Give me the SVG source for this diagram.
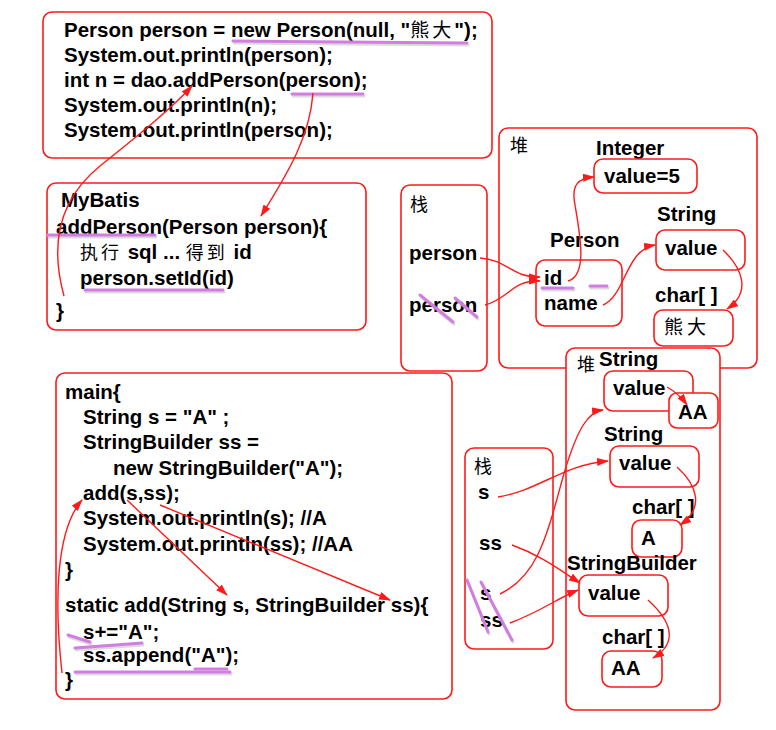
<svg xmlns="http://www.w3.org/2000/svg" width="776" height="730" viewBox="0 0 776 730">
<defs>
<style>
.box{fill:#fff;stroke:#ff1a1a;stroke-width:1.6}
.t{font-family:"Liberation Sans",Arial,"Noto Sans CJK SC",sans-serif;font-weight:bold;font-size:20.5px;fill:#000}
.c{font-family:"Noto Sans CJK SC","Liberation Sans",sans-serif;font-weight:normal;font-size:18px;fill:#000}
.a{fill:none;stroke:#ff1a1a;stroke-width:1.4;marker-end:url(#ah)}
.hl{fill:none;stroke:#d27ee0;stroke-width:3;stroke-linecap:round}
.sh{fill:none;stroke:#999;stroke-opacity:0.35;stroke-width:3;stroke-linecap:round}
</style>
<marker id="ah" viewBox="0 0 12 8" refX="11" refY="4" markerWidth="12" markerHeight="8" markerUnits="userSpaceOnUse" orient="auto">
<path d="M0,0 L12,4 L0,8 z" fill="#ff1a1a"/>
</marker>
</defs>
<rect width="776" height="730" fill="#fff"/>

<g id="code-top">
<rect class="box" x="43" y="12" width="449" height="146" rx="9"/>
<text class="t" x="64" y="37">Person person = new Person(null, "<tspan class="c" style="font-size:19px;letter-spacing:3px">熊大</tspan>");</text>
<text class="t" x="64" y="62">System.out.println(person);</text>
<text class="t" x="64" y="87">int n = dao.addPerson(person);</text>
<text class="t" x="64" y="112">System.out.println(n);</text>
<text class="t" x="64" y="137">System.out.println(person);</text>
</g>

<g id="mybatis">
<rect class="box" x="47" y="183" width="319" height="147" rx="9"/>
<text class="t" x="61" y="207">MyBatis</text>
<text class="t" x="56" y="234">addPerson(Person person){</text>
<text class="t" x="80" y="259"><tspan class="c" style="letter-spacing:3px">执行</tspan> sql ... <tspan class="c" style="letter-spacing:3px">得到</tspan> id</text>
<text class="t" x="80" y="285">person.setId(id)</text>
<text class="t" x="56" y="318">}</text>
</g>

<g id="stack-top">
<rect class="box" x="401" y="185" width="86" height="186" rx="9"/>
<text class="c" x="410" y="211">栈</text>
<text class="t" x="409" y="260">person</text>
<text class="t" x="409" y="312">person</text>
</g>

<g id="heap-top">
<rect class="box" x="499" y="128" width="258" height="240" rx="9"/>
<text class="c" x="510" y="152">堆</text>
</g>

<g id="integer">
<text class="t" x="596" y="155">Integer</text>
<rect class="box" x="594" y="159" width="103" height="34" rx="9"/>
<text class="t" x="604" y="183">value=5</text>
</g>

<g id="person-obj">
<text class="t" x="550" y="247">Person</text>
<rect class="box" x="536" y="260" width="86" height="66" rx="9"/>
<text class="t" x="544" y="285">id</text>
<text class="t" x="544" y="310">name</text>
</g>

<g id="string-top">
<text class="t" x="657" y="221">String</text>
<rect class="box" x="656" y="230" width="89" height="40" rx="9"/>
<text class="t" x="665" y="255">value</text>
</g>

<g id="chars-top">
<text class="t" x="655" y="302">char[ ]</text>
<rect class="box" x="654" y="310" width="79" height="36" rx="9"/>
<text class="c" x="664" y="334" style="font-size:19px;letter-spacing:4px">熊大</text>
</g>

<g id="code-bottom">
<rect class="box" x="56" y="373" width="396" height="326" rx="9"/>
<text class="t" x="65" y="399">main{</text>
<text class="t" x="83" y="424">String s = "A" ;</text>
<text class="t" x="83" y="449">StringBuilder ss =</text>
<text class="t" x="113" y="475">new StringBuilder("A");</text>
<text class="t" x="83" y="500">add(s,ss);</text>
<text class="t" x="83" y="525">System.out.println(s); //A</text>
<text class="t" x="83" y="551">System.out.println(ss); //AA</text>
<text class="t" x="65" y="577">}</text>
<text class="t" x="65" y="612">static add(String s, StringBuilder ss){</text>
<text class="t" x="83" y="639">s+="A";</text>
<text class="t" x="83" y="662">ss.append("A");</text>
<text class="t" x="65" y="687">}</text>
</g>

<g id="stack-bottom">
<rect class="box" x="465" y="448" width="88" height="201" rx="9"/>
<text class="c" x="474" y="473">栈</text>
<text class="t" x="478" y="499">s</text>
<text class="t" x="479" y="550">ss</text>
<text class="t" x="480" y="600">s</text>
<text class="t" x="480" y="627">ss</text>
</g>

<g id="heap-bottom">
<rect class="box" x="566" y="348" width="154" height="362" rx="9"/>
<text class="c" x="577" y="371">堆</text>
</g>

<g id="string-aa">
<text class="t" x="599" y="366">String</text>
<rect class="box" x="604" y="371" width="89" height="40" rx="9"/>
<text class="t" x="613" y="395">value</text>
</g>
<g id="chars-aa">
<rect class="box" x="669" y="393" width="49" height="35" rx="8"/>
<text class="t" x="678" y="419">AA</text>
</g>

<g id="string-a">
<text class="t" x="604" y="441">String</text>
<rect class="box" x="610" y="446" width="89" height="41" rx="9"/>
<text class="t" x="619" y="470">value</text>
</g>
<g id="chars-a">
<text class="t" x="632" y="514">char[ ]</text>
<rect class="box" x="632" y="520" width="50" height="37" rx="9"/>
<text class="t" x="641" y="545">A</text>
</g>

<g id="stringbuilder">
<text class="t" x="567" y="570">StringBuilder</text>
<rect class="box" x="579" y="575" width="89" height="41" rx="9"/>
<text class="t" x="588" y="600">value</text>
</g>
<g id="chars-sb">
<text class="t" x="602" y="644">char[ ]</text>
<rect class="box" x="602" y="651" width="60" height="36" rx="9"/>
<text class="t" x="611" y="675">AA</text>
</g>

<g id="highlights">
<path class="sh" d="M234,43 L468,45"/>
<path class="hl" d="M233,41 L467,43"/>
<path class="sh" d="M293,96 L364,96"/>
<path class="hl" d="M292,94 L363,94"/>
<path class="sh" d="M48,237 L156,237"/>
<path class="hl" d="M47,235 L155,235"/>
<path class="sh" d="M86,292 L224,292"/>
<path class="hl" d="M85,290 L223,290"/>
<path class="sh" d="M421,297 L454,324"/>
<path class="hl" d="M420,295 L453,322"/>
<path class="sh" d="M456,300 L478,319"/>
<path class="hl" d="M455,298 L477,317"/>
<path class="sh" d="M543,290 L574,290"/>
<path class="hl" d="M542,288 L573,288"/>
<path class="sh" d="M591,288 L608,288"/>
<path class="hl" d="M590,286 L607,286"/>
<path class="sh" d="M69,637 L91,644"/>
<path class="hl" d="M68,635 L90,642"/>
<path class="sh" d="M76,650 L143,645"/>
<path class="hl" d="M75,648 L142,643"/>
<path class="sh" d="M76,674 L231,674"/>
<path class="hl" d="M75,672 L230,672"/>
<path class="hl" d="M195,669 L227,669"/>
<path class="sh" d="M468,582 L489,634"/>
<path class="hl" d="M467,580 L488,632"/>
<path class="sh" d="M482,584 L513,642"/>
<path class="hl" d="M481,582 L512,640"/>
</g>

<g id="connectors">
<path class="a" d="M64,296 C50,245 58,200 100,166 C140,134 172,108 192,86"/>
<path class="a" d="M313,93 C310,135 290,170 261,216"/>
<path class="a" d="M480,258 C508,260 512,278 540,277"/>
<path class="a" d="M485,305 C510,298 512,280 540,281"/>
<path class="a" d="M568,281 C588,275 580,235 575,205 C571,185 578,178 594,177"/>
<path class="a" d="M603,305 C626,295 625,250 655,245"/>
<path class="a" d="M723,250 C742,268 752,292 727,309"/>
<path class="a" d="M62,673 C54,600 56,530 82,500"/>
<path class="a" d="M127,500 L227,595"/>
<path class="a" d="M160,505 L390,600"/>
<path class="a" d="M498,497 C540,490 562,465 608,461"/>
<path class="a" d="M512,545 C540,555 560,570 580,583"/>
<path class="a" d="M500,594 C540,575 548,530 565,470 C578,428 588,412 603,410"/>
<path class="a" d="M510,623 C540,612 558,598 578,590"/>
<path class="a" d="M667,387 C676,392 682,398 687,405"/>
<path class="a" d="M677,467 C697,485 705,508 680,525"/>
<path class="a" d="M648,600 C670,620 680,642 653,658"/>
</g>
</svg>
